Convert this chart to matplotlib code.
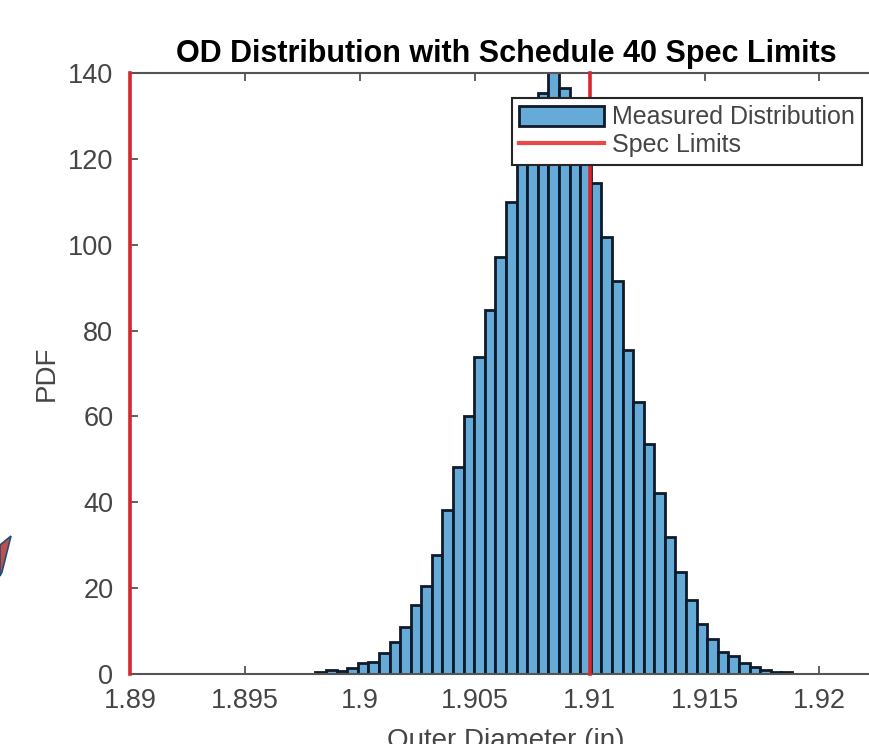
import numpy as np
import matplotlib
matplotlib.use("Agg")
import matplotlib.pyplot as plt
from matplotlib.patches import Patch, Polygon
from matplotlib.lines import Line2D

plt.rcParams['font.family'] = ['Liberation Sans', 'DejaVu Sans']

# histogram of measured outer diameter (pdf normalisation)
bin_start = 1.898067
bin_width = 0.0004608
pdf_values = [0.5, 1.0, 0.6, 1.4, 2.5, 2.9, 4.8, 7.4, 11.0, 16.1,
              20.5, 27.7, 38.3, 48.3, 60.1, 73.9, 84.9, 97.2, 110.0, 120.5,
              129.0, 135.3, 141.0, 136.4, 130.0, 123.0, 114.4, 101.7, 91.6, 75.5,
              63.3, 53.5, 42.2, 31.8, 23.7, 17.2, 11.6, 8.2, 5.1, 4.1,
              2.6, 1.6, 0.9, 0.5, 0.4]

spec_limits = [1.89, 1.91]

x_ticks = [1.89, 1.895, 1.9, 1.905, 1.91, 1.915, 1.92]
x_tick_labels = ['1.89', '1.895', '1.9', '1.905', '1.91', '1.915', '1.92']
y_ticks = [0, 20, 40, 60, 80, 100, 120, 140]

W, H = 869, 744
fig = plt.figure(figsize=(W / 100, H / 100), dpi=100)
ax = fig.add_axes([130 / W, (H - 674) / H, 752 / W, (674 - 73) / H])

edges = bin_start + bin_width * np.arange(len(pdf_values))
bars = ax.bar(edges, pdf_values, width=bin_width, align='edge',
              color='#66aad7', edgecolor='#0f1a2a', linewidth=2.0, zorder=2)

red = '#d9262b'
for lim in spec_limits:
    ax.axvline(lim, color=red, linewidth=2.6, zorder=3, clip_on=False)

ax.set_xlim(1.89, 1.89 + 752 / 22983)
ax.set_ylim(0, 140)
ax.set_xticks(x_ticks)
ax.set_xticklabels(x_tick_labels)
ax.set_yticks(y_ticks)

grey = '#454545'
ax.tick_params(axis='both', direction='in', length=6, width=1.2, color=grey,
               labelcolor=grey, labelsize=19.5, top=True, right=True)
ax.tick_params(axis='x', pad=10)
ax.tick_params(axis='y', pad=12)
for s in ax.spines.values():
    s.set_color('#555555')
    s.set_linewidth(1.5)

ax.set_title('OD Distribution with Schedule 40 Spec Limits', fontsize=22,
             fontweight='bold', pad=8)
ax.set_xlabel('Outer Diameter (in)', fontsize=20, color=grey, labelpad=10)
ax.set_ylabel('PDF', fontsize=20, color=grey, labelpad=6)

handles = [Patch(facecolor='#66aad7', edgecolor='#0f1a2a', linewidth=2.0),
           Line2D([0], [0], color='#e84a4a', linewidth=3)]
leg = ax.legend(handles, ['Measured Distribution', 'Spec Limits'],
                loc='upper right', bbox_to_anchor=(862 / W, 1 - 98 / H),
                bbox_transform=fig.transFigure, borderaxespad=0,
                fontsize=18, handlelength=3.4, handleheight=0.9,
                handletextpad=0.3, labelspacing=0.15, borderpad=0.3,
                fancybox=False, framealpha=1)
leg.get_frame().set_edgecolor('#262626')
leg.get_frame().set_linewidth(1.5)
for t in leg.get_texts():
    t.set_color(grey)

# bit of slide arrow peeking in on the left
fig.patches.append(Polygon([[0, 1 - 545 / H], [11 / W, 1 - 536 / H],
                            [2 / W, 1 - 572 / H], [0, 1 - 576 / H]],
                           closed=True, transform=fig.transFigure,
                           facecolor='#c0504d', edgecolor='#1f4e79', linewidth=1.2))

fig.savefig('out.png', dpi=100)
